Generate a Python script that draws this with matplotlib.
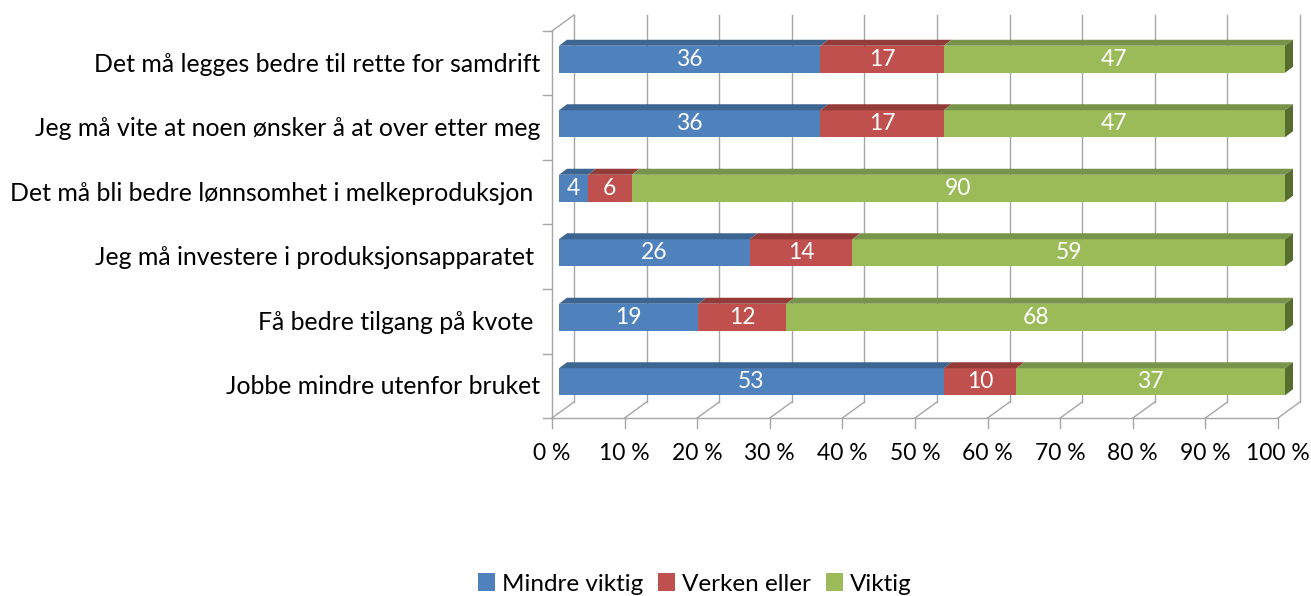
import matplotlib
matplotlib.use("Agg")
import matplotlib.pyplot as plt
from matplotlib.patches import Polygon, Patch
import numpy as np

plt.rcParams['font.family'] = ['Lato', 'DejaVu Sans']

categories = [
    "Jobbe mindre utenfor bruket",
    "Få bedre tilgang på kvote ",
    "Jeg må investere i produksjonsapparatet ",
    "Det må bli bedre lønnsomhet i melkeproduksjon ",
    "Jeg må vite at noen ønsker å at over etter meg",
    "Det må legges bedre til rette for samdrift",
]
series_names = ["Mindre viktig", "Verken eller", "Viktig"]
mindre_viktig = [53, 19, 26, 4, 36, 36]
verken_eller = [10, 12, 14, 6, 17, 17]
viktig = [37, 68, 59, 90, 47, 47]
x_ticks = [0, 10, 20, 30, 40, 50, 60, 70, 80, 90, 100]
x_tick_labels = [f"{t} %" for t in x_ticks]

front = ["#4F81BD", "#C0504D", "#9BBB59"]
top = ["#3C6591", "#933B39", "#78944A"]
side = ["#2E4E72", "#702D2B", "#566D2F"]

W, H = 1311, 596
fig = plt.figure(figsize=(W / 100, H / 100), dpi=100)
L, R, B, T = 552, 1278, 418, 31
ax = fig.add_axes([L / W, (H - B) / H, (R - L) / W, (B - T) / H])
ax.set_xlim(0, 100)
ax.set_ylim(-0.5, 5.5)
ax.axis('off')

PX = (R - L) / 100.0
PY = (B - T) / 6.0
WX, WY = 22 / PX, 16 / PY
BX0, BY0 = 7 / PX, 4 / PY
BDX, BDY = 8 / PX, 6 / PY
HH = 13.5 / PY

gc = "#a6a6a6"
kw = dict(color=gc, lw=1.0, clip_on=False, zorder=1)
for k, lab in zip(x_ticks, x_tick_labels):
    ax.plot([k, k + WX], [-0.5, -0.5 + WY], **kw)
    ax.plot([k + WX, k + WX], [-0.5 + WY, 5.5 + WY], **kw)
    ax.plot([k, k], [-0.5, -0.5 - 10 / PY], **kw)
    ax.text(k, -0.5 - 35 / PY, lab, ha='center', va='center', fontsize=16.5, color='black')
ax.plot([0, 100], [-0.5, -0.5], **kw)
ax.plot([0, 0], [-0.5, 5.5], **kw)
ax.plot([0, WX], [5.5, 5.5 + WY], **kw)
for j in range(7):
    ax.plot([0, -9 / PX], [-0.5 + j, -0.5 + j], **kw)

data = np.array([mindre_viktig, verken_eller, viktig], dtype=float)
totals = data.sum(axis=0)
for i, cat in enumerate(categories):
    ax.text(-12 / PX, i - 1 / PY, cat, ha='right', va='center', fontsize=17.9, color='black')
    left = 0.0
    for s in range(3):
        w = data[s, i] / totals[i] * 100
        a, b = left, left + w
        y0, y1 = i - HH + BY0, i + HH + BY0
        ax.add_patch(Polygon([(a + BX0, y0), (b + BX0, y0), (b + BX0, y1), (a + BX0, y1)],
                             closed=True, facecolor=front[s], edgecolor='none', zorder=3, clip_on=False))
        ax.add_patch(Polygon([(a + BX0, y1), (b + BX0, y1), (b + BX0 + BDX, y1 + BDY), (a + BX0 + BDX, y1 + BDY)],
                             closed=True, facecolor=top[s], edgecolor='none', zorder=3, clip_on=False))
        if s == 2:
            ax.add_patch(Polygon([(b + BX0, y0), (b + BX0, y1), (b + BX0 + BDX, y1 + BDY), (b + BX0 + BDX, y0 + BDY)],
                                 closed=True, facecolor=side[s], edgecolor='none', zorder=3, clip_on=False))
        ax.text((a + b) / 2 + BX0, i + BY0, f"{int(data[s, i])}", ha='center', va='center',
                fontsize=16.5, color='white', zorder=4)
        left = b

handles = [Patch(facecolor=c, edgecolor='none') for c in front]
fig.legend(handles, series_names, loc='center', bbox_to_anchor=(695 / W, 1 - 584 / H), ncol=3,
           frameon=False, fontsize=17.5, handlelength=0.7, handleheight=0.7, handletextpad=0.3,
           columnspacing=0.6)

fig.savefig("out.png", dpi=100)
